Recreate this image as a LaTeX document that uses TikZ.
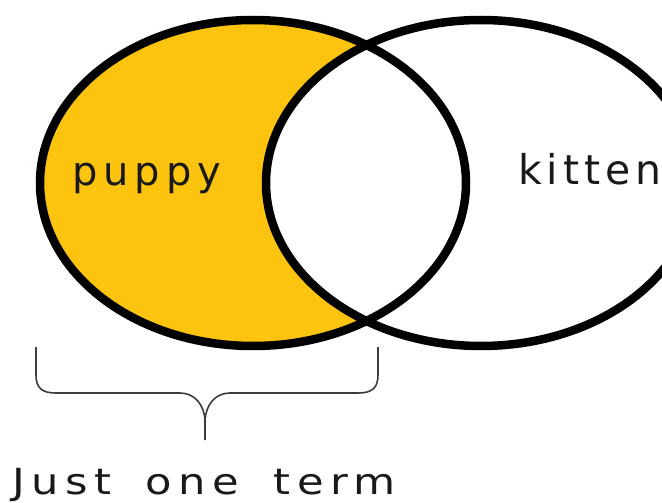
\documentclass[tikz,border=0pt]{standalone}
\usepackage{fontspec}
\setmainfont{DejaVu Sans}
\definecolor{pupfill}{RGB}{252,195,15}
\definecolor{bracecol}{RGB}{60,60,60}
\begin{document}
\begin{tikzpicture}[x=1pt,y=-1pt,
  setline/.style={line width=8.5pt,draw=black},
  lbl/.style={inner sep=0pt,anchor=base west,text=black!90},
  bracepath/.style={draw=bracecol,line width=1.6pt}]
\useasboundingbox (0,0) rectangle (662,503);
% left set filled
\fill[pupfill] (253,183) ellipse [x radius=213, y radius=163];
\begin{scope}
  \clip (253,183) ellipse [x radius=213, y radius=163];
  \fill[white] (481,183) ellipse [x radius=215, y radius=163];
\end{scope}
\draw[setline] (253,183) ellipse [x radius=213, y radius=163];
\draw[setline] (481,183) ellipse [x radius=215, y radius=163];
\node[lbl,font={\fontsize{40}{40}\selectfont\addfontfeature{LetterSpace=15}}] (pup) at (72,185) {puppy};
\node[lbl,font={\fontsize{41}{41}\selectfont\addfontfeature{LetterSpace=12}}] (kit) at (518,184) {kitten};
% brace
\coordinate (bl) at (36,347);
\coordinate (br) at (378,347);
\coordinate (tip) at (205,440);
\draw[bracepath] (bl) -- (36,375) .. controls (36,388) and (42,393) .. (56,393)
  -- (180,393) .. controls (195,393) and (204,405) .. (205,420) -- (tip);
\draw[bracepath] (br) -- (378,375) .. controls (378,388) and (372,393) .. (358,393)
  -- (230,393) .. controls (215,393) and (206,405) .. (205,420);
\node[lbl,font={\fontsize{36}{36}\selectfont\addfontfeature{LetterSpace=15}}] (term) at (12,494) {\scalebox{1.2}[1]{Just\hspace{12pt} one\hspace{12pt} term}};
\end{tikzpicture}
\end{document}
